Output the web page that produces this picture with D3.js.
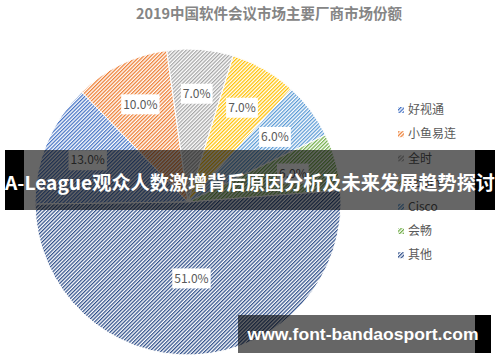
<!DOCTYPE html>
<html><head><meta charset="utf-8">
<script src="https://cdn.jsdelivr.net/npm/d3@7"></script>
<style>html,body{margin:0;padding:0;background:#fff;}svg{display:block;}</style>
</head><body>
<script>
const title = "2019中国软件会议市场主要厂商市场份额";
const categories = ["好视通","小鱼易连","全时","Zoom","Cisco","会畅","其他"];
const shares = [13,10,7,7,6,6,51];
const colors = ["#4472C4","#ED7D31","#A5A5A5","#FFC000","#5B9BD5","#70AD47","#2F4F8A"];
const bannerText = "A-League观众人数激增背后原因分析及未来发展趋势探讨";
const watermark = "www.font-bandaosport.com";

const W = 500, H = 362;
const svg = d3.select("body").append("svg").attr("width", W).attr("height", H);
const FONT = "'Noto Sans CJK SC','Noto Sans',sans-serif";

const defs = svg.append("defs");
colors.forEach((c, i) => {
  const p = defs.append("pattern").attr("id", "pat" + i)
    .attr("patternUnits", "userSpaceOnUse").attr("width", 2.6).attr("height", 2.6)
    .attr("patternTransform", "rotate(45)");
  p.append("rect").attr("width", 2.6).attr("height", 2.6).attr("fill", "#fff");
  p.append("rect").attr("width", 1.25).attr("height", 2.6).attr("fill", c);
});

svg.append("text").attr("x", 269).attr("y", 19).attr("text-anchor", "middle")
  .attr("font-family", FONT).attr("font-weight", "bold").attr("font-size", 14.5)
  .attr("fill", "#858585").text(title);

const cx = 188, cy = 202, R = 153;
const pie = d3.pie().sort(null).value(d => d)
  .startAngle(-90.8 * Math.PI / 180).endAngle((360 - 90.8) * Math.PI / 180);
const arcs = pie(shares);
const arc = d3.arc().innerRadius(0).outerRadius(R);
const g = svg.append("g").attr("transform", `translate(${cx},${cy})`);
g.selectAll("path").data(arcs).enter().append("path")
  .attr("d", arc).attr("fill", (d, i) => `url(#pat${i})`)
  .attr("stroke", "#fff").attr("stroke-width", 1);

const fmt = d3.format(".1f");
arcs.forEach((d) => {
  const lr = d.value > 30 ? R * 0.5 : R * 0.71;
  const [x, y] = d3.arc().innerRadius(lr).outerRadius(lr).centroid(d);
  const lg = g.append("g").attr("transform", `translate(${x},${y})`);
  const t = lg.append("text").attr("text-anchor", "middle").attr("dy", "0.35em")
    .attr("font-family", FONT).attr("font-size", 12).attr("fill", "#595959")
    .text(fmt(d.value) + "%");
  const bb = t.node().getBBox();
  lg.insert("rect", "text").attr("x", bb.x - 2).attr("y", -10)
    .attr("width", bb.width + 4).attr("height", 20).attr("fill", "#fff");
});

const legend = svg.append("g");
categories.forEach((c, i) => {
  const y = 110 + i * 24.2;
  legend.append("rect").attr("x", 398).attr("y", y - 3).attr("width", 6).attr("height", 6)
    .attr("fill", `url(#pat${i})`);
  legend.append("text").attr("x", 408).attr("y", y).attr("dy", "0.35em")
    .attr("font-family", FONT).attr("font-size", 12).attr("fill", "#595959").text(c);
});

// banner overlay
svg.append("rect").attr("x", 5).attr("y", 150).attr("width", 19).attr("height", 60).attr("fill", "#000");
svg.append("rect").attr("x", 475).attr("y", 150).attr("width", 20).attr("height", 60).attr("fill", "#000");
svg.append("rect").attr("x", 24).attr("y", 150).attr("width", 451).attr("height", 60)
  .attr("fill", "#000").attr("fill-opacity", 0.6);
svg.append("text").attr("x", 250).attr("y", 190).attr("text-anchor", "middle")
  .attr("font-family", FONT).attr("font-weight", "bold").attr("font-size", 19)
  .attr("fill", "#fff").attr("textLength", 490).attr("lengthAdjust", "spacingAndGlyphs")
  .text(bannerText);

// watermark
svg.append("rect").attr("x", 475).attr("y", 315).attr("width", 16).attr("height", 38).attr("fill", "#000");
svg.append("rect").attr("x", 238).attr("y", 315).attr("width", 237).attr("height", 38)
  .attr("fill", "#000").attr("fill-opacity", 0.6);
svg.append("text").attr("x", 363).attr("y", 340).attr("text-anchor", "middle")
  .attr("font-family", "'Liberation Sans','DejaVu Sans',sans-serif").attr("font-weight", "bold").attr("font-size", 17)
  .attr("fill", "#fff").attr("textLength", 231).attr("lengthAdjust", "spacingAndGlyphs")
  .text(watermark);
</script>
</body></html>
